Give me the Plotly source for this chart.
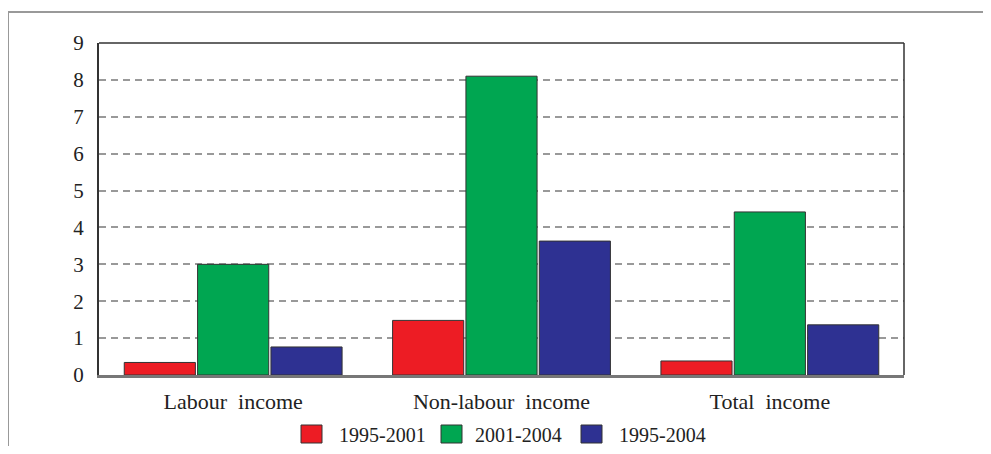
import plotly.graph_objects as go

categories = ["Labour\u00a0\u00a0income", "Non-labour\u00a0\u00a0income", "Total\u00a0\u00a0income"]
series_names = ["1995-2001", "2001-2004", "1995-2004"]
v_1995_2001 = [0.34, 1.48, 0.38]
v_2001_2004 = [3.0, 8.1, 4.42]
v_1995_2004 = [0.76, 3.63, 1.36]
colors = ["#ED1C24", "#00A651", "#2E3192"]
y_ticks = [0, 1, 2, 3, 4, 5, 6, 7, 8, 9]

fig = go.Figure()
for name, vals, col in zip(series_names, [v_1995_2001, v_2001_2004, v_1995_2004], colors):
    fig.add_trace(go.Bar(x=categories, y=vals, name=name, marker_color=col,
                         marker_line_color="#333333", marker_line_width=1, showlegend=False))

# page has an 8px body margin; figure is placed at (8, 8)
OFF = 8
W, H = 991 - 2 * OFF, 454 - 2 * OFF
PL, PR, PT, PB = 99, 904, 43, 375  # plot area in page pixels
ml, mr, mt, mb = PL - OFF, (W + OFF) - PR, PT - OFF, (H + OFF) - PB
pw, ph = PR - PL, PB - PT


def px(x):
    return (x - PL) / pw


def py(y):
    return (PB - y) / ph


fig.update_layout(
    width=W, height=H,
    margin=dict(l=ml, r=mr, t=mt, b=mb, autoexpand=False),
    paper_bgcolor="white", plot_bgcolor="white",
    barmode="group", bargap=0.18, bargroupgap=0.03,
    font=dict(family="Liberation Serif", color="#222222", size=20),
    showlegend=False,
    xaxis=dict(showline=True, linecolor="#777777", linewidth=2.5, ticks="", mirror=False,
               tickfont=dict(size=22), showgrid=False, ticklabelstandoff=5),
    yaxis=dict(range=[0, 9], tickvals=y_ticks, showline=True, linecolor="#333333", linewidth=2,
               ticks="", showgrid=True, gridcolor="#999999", griddash="7px,5px", gridwidth=1.5,
               tickfont=dict(size=21), zeroline=False, ticklabelstandoff=9),
)
# plot-area top and right borders
fig.add_shape(type="line", xref="paper", yref="paper", x0=0, x1=1, y0=1, y1=1,
              line=dict(color="#333333", width=1.5))
fig.add_shape(type="line", xref="paper", yref="paper", x0=1, x1=1, y0=0, y1=1,
              line=dict(color="#333333", width=1.5))
# outer frame (top and left edges visible)
fig.add_shape(type="line", xref="paper", yref="paper", x0=px(8), x1=px(1000), y0=py(12), y1=py(12),
              line=dict(color="#999999", width=2))
fig.add_shape(type="line", xref="paper", yref="paper", x0=px(8), x1=px(8), y0=py(12), y1=py(460),
              line=dict(color="#999999", width=2))

# legend drawn as swatches + labels
leg_sq_x = [301, 441, 581]
leg_txt_x = [337, 473, 617]
for name, col, sx, tx in zip(series_names, colors, leg_sq_x, leg_txt_x):
    fig.add_shape(type="rect", xref="paper", yref="paper",
                  x0=px(sx), x1=px(sx + 21), y0=py(443), y1=py(425),
                  fillcolor=col, line=dict(color="#333333", width=1))
    fig.add_annotation(xref="paper", yref="paper", x=px(tx), y=py(435), text=name,
                       showarrow=False, xanchor="left", yanchor="middle",
                       font=dict(size=20, family="Liberation Serif", color="#222222"))

fig.write_html("out.html")
